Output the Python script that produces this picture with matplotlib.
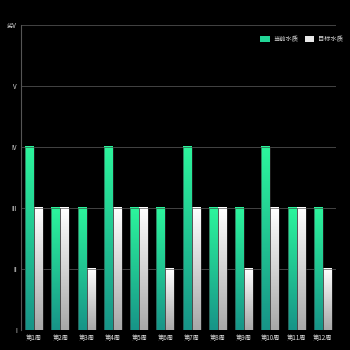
import numpy as np
import matplotlib
matplotlib.use("Agg")
import matplotlib.pyplot as plt
from matplotlib.colors import LinearSegmentedColormap
from matplotlib.patches import Patch

plt.rcParams['font.family'] = ['Noto Sans CJK SC', 'DejaVu Sans']

weeks = ["第1周", "第2周", "第3周", "第4周", "第5周", "第6周",
         "第7周", "第8周", "第9周", "第10周", "第11周", "第12周"]
levels = ["I", "II", "III", "IV", "V", "劣V"]
# 1 = I ... 6 = 劣V
current = [4, 3, 3, 4, 3, 3, 4, 3, 3, 4, 3, 3]
target = [3, 3, 2, 3, 3, 2, 3, 3, 2, 3, 3, 2]
series_names = ["当前水质", "目标水质"]

green_cmap = LinearSegmentedColormap.from_list("g", ["#179488", "#2cf59c"])
white_cmap = LinearSegmentedColormap.from_list("w", ["#a8a8a8", "#ffffff"])

fig = plt.figure(figsize=(3.5, 3.5), dpi=100, facecolor="black")
ax = fig.add_axes([0.06, 0.057, 0.9, 0.872])
ax.set_facecolor("black")

x = np.arange(len(weeks))
w = 0.34
grad = np.linspace(0, 1, 100).reshape(-1, 1)

for i in range(len(weeks)):
    for vals, off, cmap in ((current, -w / 2, green_cmap), (target, w / 2, white_cmap)):
        left = x[i] + off - w / 2
        ax.imshow(grad, cmap=cmap, origin="lower", aspect="auto",
                  extent=(left, left + w, 1, vals[i]), zorder=3)
        ax.bar(x[i] + off, vals[i] - 1, width=w, bottom=1, facecolor="none",
               edgecolor="#333333", linewidth=0.4, zorder=4)

ax.set_xlim(-0.5, len(weeks) - 0.5)
ax.set_ylim(1, 6)
ax.set_yticks(range(1, 7))
ax.set_yticklabels(levels)
ax.set_xticks(x)
ax.set_xticklabels(weeks)
ax.tick_params(colors="#dddddd", labelsize=4.5, length=0, pad=3)
ax.yaxis.grid(True, color="#444444", linewidth=0.7)
ax.set_axisbelow(True)
for s in ["top", "right", "bottom"]:
    ax.spines[s].set_visible(False)
ax.spines["left"].set_color("#555555")
ax.spines["left"].set_linewidth(0.8)

handles = [Patch(facecolor="#22d596", edgecolor="none"),
           Patch(facecolor="#e8e8e8", edgecolor="none")]
leg = ax.legend(handles, series_names, loc="upper right", bbox_to_anchor=(1.04, 0.985),
                ncol=2, frameon=False, fontsize=4.5, labelcolor="#dddddd",
                handlelength=1.5, handleheight=1.0, columnspacing=1.0, handletextpad=0.6)

fig.savefig("out.png", dpi=100, facecolor="black")
